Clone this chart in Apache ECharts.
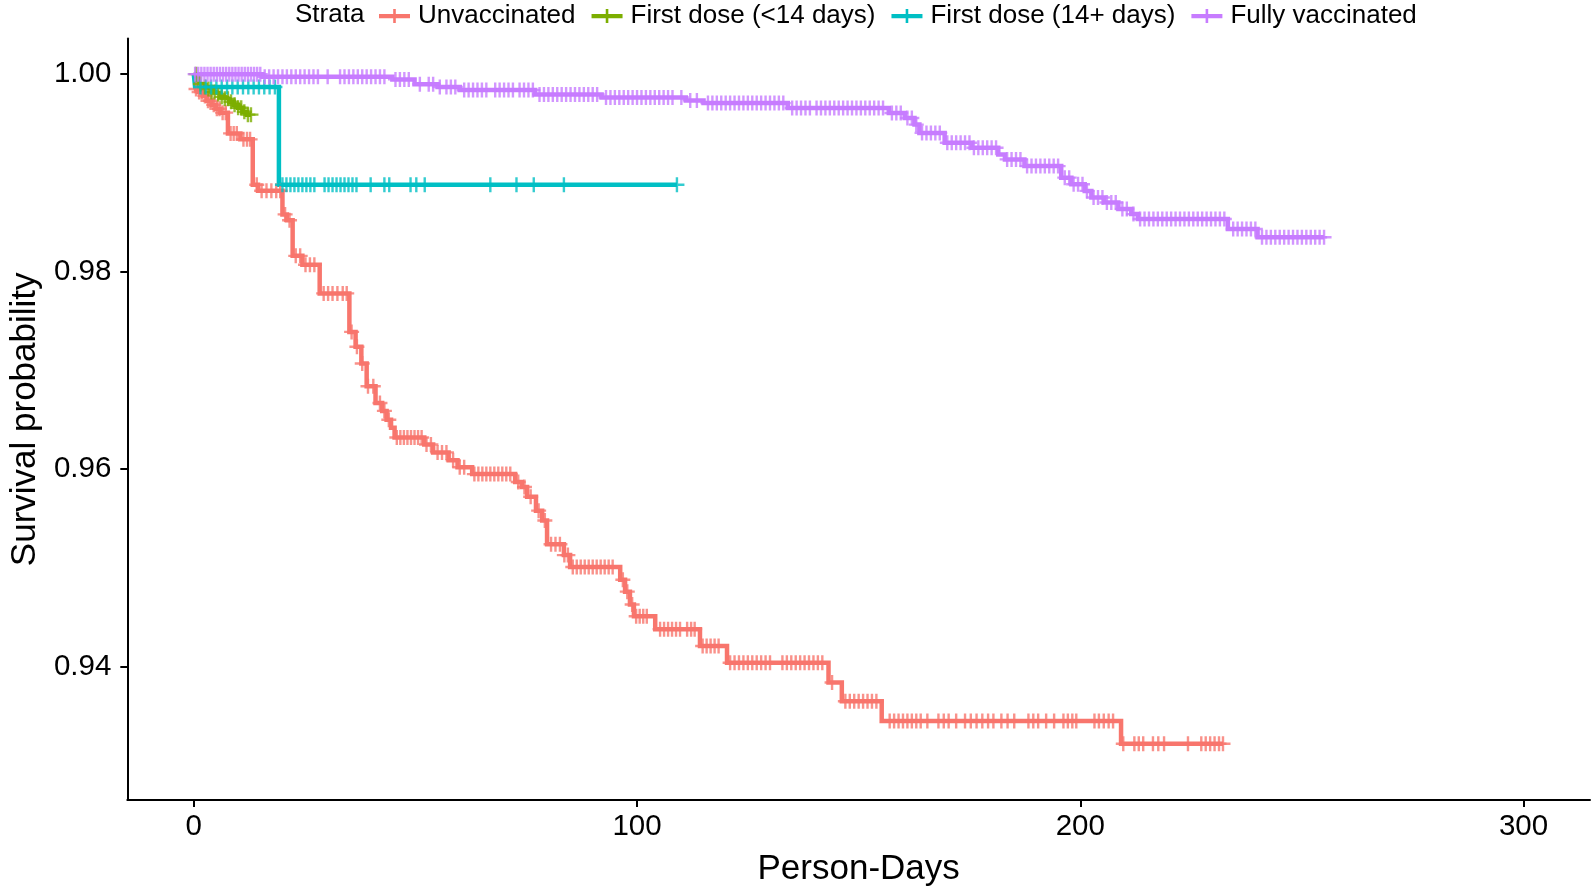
<!DOCTYPE html>
<html>
<head>
<meta charset="utf-8">
<script src="https://cdn.jsdelivr.net/npm/echarts@6/dist/echarts.min.js"></script>
<style>
html,body{margin:0;padding:0;background:#fff;}
#chart{width:1593px;height:892px;}
</style>
</head>
<body>
<div id="chart"></div>
<script>
// ---------- DATA ----------
const seriesNames = ['Unvaccinated', 'First dose (<14 days)', 'First dose (14+ days)', 'Fully vaccinated'];
const seriesColors = ['#F8766D', '#7CAE00', '#00BFC4', '#C77CFF'];
const xTicks = [0, 100, 200, 300];
const yTicks = [0.94, 0.96, 0.98, 1.00];

// Unvaccinated
const unvaxTime = [0, 1, 2, 3, 4, 5, 6, 7.7, 10.5, 13.3, 14.5, 20, 21, 22.3, 24.5, 28.4, 35.1, 36.5, 37.8, 39, 41, 42.5, 43.5, 44.5, 45.3, 52, 54, 57.5, 59.5, 62.8, 72.5, 74, 75.2, 77.2, 78.6, 79.7, 83.5, 84.9, 96.2, 97.3, 98.4, 99.3, 104.1, 114.2, 120.3, 143.2, 146.2, 155.2, 209.2];
const unvaxSurv = [0.9985, 0.9982, 0.9978, 0.9973, 0.9969, 0.9965, 0.9961, 0.9940, 0.9934, 0.9888, 0.9882, 0.9858, 0.9852, 0.9816, 0.9807, 0.9778, 0.9739, 0.9724, 0.9707, 0.9684, 0.9667, 0.9659, 0.9650, 0.9642, 0.9632, 0.9625, 0.9617, 0.9609, 0.9602, 0.9595, 0.9587, 0.9582, 0.9572, 0.9558, 0.9548, 0.9524, 0.9513, 0.9501, 0.9488, 0.9476, 0.9463, 0.9451, 0.9438, 0.9421, 0.9404, 0.9384, 0.9365, 0.9345, 0.9322];
const unvaxEnd = 232.2;
const unvaxCensor = [0.5, 1.2, 1.8, 2.5, 3.2, 3.8, 4.5, 5.2, 5.8, 6.5, 7.2, 8.3, 9, 9.7, 11.2, 12, 12.7,
  14.2, 15.3, 16.4, 17.5, 18.6, 19.5, 20.6, 21.6, 23, 24, 25.2, 26.2, 27.2, 29.3, 30.3, 31.3, 32.4, 33.6, 34.5,
  35.6, 36.8, 38, 39.3, 40.5, 42, 43, 44, 45.8, 46.6, 47.4, 48.2, 49, 49.8, 50.6, 51.4,
  52.5, 53.5, 55, 56, 57, 58.5, 60, 61, 63.3, 64.2, 65.1, 66, 66.9, 67.8, 68.7, 69.6, 70.5, 71.4,
  73.2, 74.6, 76, 77.8, 79.2, 80.6, 81.6, 82.6, 83.6, 84.4, 85.5, 86.4, 87.3, 88.2, 89.1, 90, 90.9, 91.8, 92.7, 93.6, 94.5,
  96.8, 97.8, 98.9, 99.8, 100.6, 101.4, 102.2, 105.2, 106.1, 107, 107.9, 108.8, 109.7, 111.3, 112.2, 113,
  114.8, 115.7, 116.6, 117.5, 118.4, 121, 122, 123, 124, 125, 126, 127, 128, 129, 130,
  132.8, 133.8, 134.8, 135.8, 136.8, 137.8, 138.8, 139.8, 140.8, 141.8, 144,
  147, 148, 149, 150, 151, 152, 153, 154, 157, 158, 159, 160, 161, 162, 163, 164, 165.5,
  168, 169.2, 170.3, 172, 174, 175.3, 176.6, 177.9, 179.2, 180.4, 182.2, 183.6, 185.1, 188.3, 189.4, 190.5, 192.3, 194.1,
  196.2, 197.2, 198.2, 199.1, 203.2, 204.2, 205.3, 206.4, 207.4,
  209.7, 212.2, 213.2, 214.2, 216.4, 217.6, 218.9, 224.3, 227.3, 228.3, 229.3, 230.3, 231.3, 232.2];

// First dose (<14 days)
const dose1aTime = [0, 1, 2, 3, 4, 5, 6, 7, 8, 9, 10, 11, 12];
const dose1aSurv = [1.0, 0.9990, 0.9987, 0.9985, 0.9982, 0.9980, 0.9977, 0.9975, 0.9972, 0.9969, 0.9966, 0.9962, 0.9959];
const dose1aEnd = 12.9;
const dose1aCensor = [0.5, 1.5, 2.5, 3.3, 4, 4.7, 5.5, 6.3, 7, 7.7, 8.4, 9.2, 10, 10.7, 11.4, 12.2, 12.9];

// First dose (14+ days)
const dose1bTime = [0, 0.3, 19.2];
const dose1bSurv = [1.0, 0.9987, 0.9888];
const dose1bEnd = 109;
const dose1bCensor = [1.5, 2.7, 3.9, 5.1, 6.3, 7.5, 8.7, 9.9, 11.1, 12.3, 13.5, 14.7, 15.9, 17.1, 18.3,
  20, 20.9, 21.8, 22.7, 23.6, 24.5, 25.4, 26.3, 27.2, 29.5, 30.4, 31.3, 32.2, 33.1, 34, 34.9, 35.8, 36.7,
  39.9, 43, 44.1, 48.9, 50.2, 52.1, 66.9, 72.8, 76.7, 83.5, 109];

// Fully vaccinated
const fullTime = [0, 15.5, 44.8, 49.8, 55, 60, 77, 92, 111, 115, 134, 156.8, 160.4, 162.6, 163.7, 169.4, 175.5, 181.5, 183, 187.4, 195.7, 198, 201, 202.5, 205.4, 208.6, 211.5, 213, 233.3, 240];
const fullSurv = [1.0, 0.99974, 0.99947, 0.99897, 0.9987, 0.9984, 0.99795, 0.99764, 0.99734, 0.99707, 0.99658, 0.99607, 0.99556, 0.99489, 0.99405, 0.99305, 0.99254, 0.99187, 0.99137, 0.99069, 0.98952, 0.98885, 0.98818, 0.98751, 0.98701, 0.98634, 0.98583, 0.98533, 0.98432, 0.98349];
const fullEnd = 255;
const fullCensor = [0.3, 1, 1.7, 2.4, 3.1, 3.8, 4.5, 5.2, 5.9, 6.6, 7.3, 8, 8.7, 9.4, 10.1, 10.8, 11.5, 12.2, 12.9, 13.6, 14.3, 15,
  16, 17, 18, 19, 20, 21, 22, 23, 24, 25, 26, 27, 28, 30.2, 33, 34, 35, 36, 37, 38, 39, 40, 41, 42, 43,
  45.5, 46.5, 47.5, 48.5, 51, 53, 54, 55.5, 57, 58, 59,
  61, 62, 63, 64, 65, 66, 68, 69, 70, 71, 72, 73.5, 74.5, 75.5, 76.5,
  78, 79, 80, 81, 82, 83, 84, 85, 86, 87, 88, 89, 90, 91,
  93, 94, 95, 96, 97, 98, 99, 100, 101, 102, 103, 104, 105, 106, 107, 108, 110, 112, 113.5,
  116, 117, 118, 119, 120, 121, 122, 123, 124, 125, 126, 127, 128, 129, 130, 131, 132, 133,
  135, 136, 137, 138, 139, 140.5, 141.5, 142.5, 143.5, 144.5, 145.5, 146.5, 147.5,
  148.5, 149.5, 150.5, 151.5, 152.5, 153.5, 154.5, 155.5, 157.5, 158.5, 159.5, 161, 162, 163,
  164.3, 165.3, 166.3, 167.3, 168.3, 170, 171, 172, 173, 174, 175, 176, 177, 178, 179, 180, 181,
  183.5, 184.5, 185.5, 186.5, 188, 189, 190, 191, 192, 193, 194, 195,
  196.5, 197.5, 198.5, 199.5, 200.5, 201.5, 203, 204, 205, 206, 207, 208, 209.5, 210.5, 212,
  213.5, 214.5, 215.5, 216.5, 217.5, 218.5, 219.5, 220.5, 221.5, 222.5, 223.5, 224.5, 225.5, 226.5, 227.5, 228.5, 229.5, 230.5, 231.5, 232.5,
  234.5, 235.5, 236.5, 237.5, 238.5, 239.5,
  241, 242, 243, 244, 245, 246, 247, 248, 249, 250, 251, 252, 253, 254, 255];

// ---------- BUILD ----------
const groups = [
  {time: unvaxTime, surv: unvaxSurv, end: unvaxEnd, censor: unvaxCensor},
  {time: dose1aTime, surv: dose1aSurv, end: dose1aEnd, censor: dose1aCensor},
  {time: dose1bTime, surv: dose1bSurv, end: dose1bEnd, censor: dose1bCensor},
  {time: fullTime, surv: fullSurv, end: fullEnd, censor: fullCensor}
];

function survAt(g, t) {
  let s = g.surv[0];
  for (let i = 0; i < g.time.length; i++) { if (g.time[i] <= t) s = g.surv[i]; }
  return s;
}

const FONT = '"Liberation Sans", Arial, Helvetica, sans-serif';
const PLUS = 'path://M-1.2,-7.5L1.2,-7.5L1.2,-1.2L7.5,-1.2L7.5,1.2L1.2,1.2L1.2,7.5L-1.2,7.5L-1.2,1.2L-7.5,1.2L-7.5,-1.2L-1.2,-1.2Z';
const LEGEND_ICON = 'path://M0,5L14.2,5L14.2,0L16.8,0L16.8,5L31,5L31,9.2L16.8,9.2L16.8,14L14.2,14L14.2,9.2L0,9.2Z';

const series = [];
groups.forEach((g, i) => {
  const d = g.time.map((t, k) => [t, g.surv[k]]);
  d.push([g.end, g.surv[g.surv.length - 1]]);
  series.push({
    name: seriesNames[i], type: 'line', step: 'end', data: d, showSymbol: false,
    color: seriesColors[i],
    lineStyle: {color: seriesColors[i], width: 4.5, cap: 'butt', join: 'miter'},
    z: 2 + i, silent: true
  });
});
groups.forEach((g, i) => {
  series.push({
    name: seriesNames[i], type: 'scatter',
    data: g.censor.map(t => [t, survAt(g, t)]),
    symbol: PLUS, symbolSize: 15,
    itemStyle: {color: seriesColors[i]},
    z: 10 + i, silent: true
  });
});

const chart = echarts.init(document.getElementById('chart'), null, {renderer: 'canvas'});
chart.setOption({
  animation: false,
  backgroundColor: '#ffffff',
  grid: {left: 125, right: 3, top: 38.6, bottom: 87.4, containLabel: false},
  legend: {
    left: 374, top: -2, itemWidth: 31, itemHeight: 14, itemGap: 16,
    data: seriesNames.map(n => ({name: n, icon: LEGEND_ICON})),
    textStyle: {fontSize: 26, color: '#000', fontFamily: FONT, padding: [0, 0, 0, 3]},
    selectedMode: false
  },
  graphic: [{
    type: 'text', x: 295, y: 14.5,
    style: {text: 'Strata', fontSize: 26, fontFamily: FONT, fill: '#000', verticalAlign: 'middle', align: 'left'}
  }],
  xAxis: {
    type: 'value', min: -15, max: 315,
    name: 'Person-Days', nameLocation: 'middle', nameGap: 52,
    nameTextStyle: {fontSize: 35, color: '#000', fontFamily: FONT},
    axisLine: {show: true, onZero: false, lineStyle: {color: '#000', width: 2}},
    axisTick: {show: true, length: 7, lineStyle: {color: '#000', width: 2}, customValues: xTicks},
    axisLabel: {fontSize: 29.5, color: '#000', fontFamily: FONT, margin: 12, customValues: xTicks},
    splitLine: {show: false}
  },
  yAxis: {
    type: 'value', min: 0.9265, max: 1.0036,
    name: 'Survival probability', nameLocation: 'middle', nameGap: 77, nameRotate: 90,
    nameTextStyle: {fontSize: 35, color: '#000', fontFamily: FONT},
    axisLine: {show: true, onZero: false, lineStyle: {color: '#000', width: 2}},
    axisTick: {show: true, length: 7, lineStyle: {color: '#000', width: 2}, customValues: yTicks},
    axisLabel: {fontSize: 29.5, color: '#000', fontFamily: FONT, margin: 16, customValues: yTicks,
      formatter: v => v.toFixed(2)},
    splitLine: {show: false}
  },
  series: series
});
</script>
</body>
</html>
